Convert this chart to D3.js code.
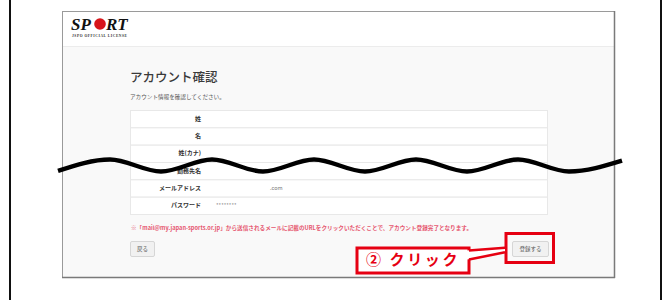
<!DOCTYPE html>
<html><head><meta charset="utf-8">
<script src="https://cdn.jsdelivr.net/npm/d3@7"></script>
<style>
html,body{margin:0;padding:0;background:#fff;}
svg{display:block;font-family:"Noto Sans CJK JP","Noto Sans",sans-serif;}
</style></head>
<body>
<svg id="c" width="670" height="300"></svg>
<script>
// ---- content ----
const pageTitle = "アカウント確認";
const pageSub = "アカウント情報を確認してください。";
const rowLabels = ["姓", "名", "姓(カナ)", "勤務先名", "メールアドレス", "パスワード"];
const rowValues = ["", "", "", "", ".com", "********"];
const valueOffsets = [0, 0, 0, 0, 62, 8];
const noteText = "※「mail@my.japan-sports.or.jp」から送信されるメールに記載のURLをクリックいただくことで、アカウント登録完了となります。";
const backLabel = "戻る";
const submitLabel = "登録する";
const calloutLabel = "② クリック";
const logoLeft = "SP", logoRight = "RT", logoSub = "JSPO OFFICIAL LICENSE";
// wave extrema (x) and level (0 = trough, 1 = peak)
const waveX = [58, 110, 161, 212, 263, 314, 365, 416, 467, 518, 569, 622];
const waveLevel = [0.05, 1, 0, 1, 0, 1, 0, 1, 0, 1, 0, 0.9];

const svg = d3.select("#c");
const red = "#e60012";

// outer frame lines
svg.append("rect").attr("x", 9).attr("y", 0).attr("width", 2).attr("height", 300).attr("fill", "#111");
svg.append("rect").attr("x", 660).attr("y", 0).attr("width", 2).attr("height", 300).attr("fill", "#111");

// screenshot box
const sx0 = 62, sx1 = 615, sy0 = 11, sy1 = 278, headerY = 46;
svg.append("rect").attr("x", sx0 + 0.5).attr("y", sy0 + 0.5).attr("width", sx1 - sx0 - 1).attr("height", sy1 - sy0 - 1)
  .attr("fill", "#f9f9f9").attr("stroke", "#9a9a9a");
svg.append("rect").attr("x", sx0 + 1).attr("y", sy0 + 1).attr("width", sx1 - sx0 - 2).attr("height", headerY - sy0 - 1).attr("fill", "#fff");
svg.append("line").attr("x1", sx0 + 1).attr("x2", sx1 - 1).attr("y1", headerY + 0.5).attr("y2", headerY + 0.5).attr("stroke", "#ececec");
svg.append("line").attr("x1", sx1 - 0.5).attr("x2", sx1 - 0.5).attr("y1", sy0).attr("y2", sy1).attr("stroke", "#7a7a7a").attr("stroke-width", 1.5);
svg.append("line").attr("x1", sx0).attr("x2", sx1).attr("y1", sy1 - 0.5).attr("y2", sy1 - 0.5).attr("stroke", "#7a7a7a").attr("stroke-width", 1.5);

// logo
const logo = svg.append("g");
logo.append("text").attr("x", 71).attr("y", 30).attr("font-family", "Liberation Serif, DejaVu Serif, serif")
  .attr("font-weight", "bold").attr("font-style", "italic").attr("font-size", 17).attr("fill", "#111").text(logoLeft);
logo.append("circle").attr("cx", 100).attr("cy", 24).attr("r", 5.8).attr("fill", "#d7141a");
logo.append("text").attr("x", 106).attr("y", 30).attr("font-family", "Liberation Serif, DejaVu Serif, serif")
  .attr("font-weight", "bold").attr("font-style", "italic").attr("font-size", 17).attr("fill", "#111").text(logoRight);
logo.append("text").attr("x", 72).attr("y", 36.5).attr("font-family", "Liberation Serif, serif")
  .attr("font-size", 3.6).attr("font-weight", "bold").attr("fill", "#333").attr("textLength", 55).text(logoSub);

// title
svg.append("text").attr("x", 130).attr("y", 81.5).attr("font-size", 12.5).attr("font-weight", 500).attr("fill", "#3a3a3a").text(pageTitle);
svg.append("text").attr("x", 130).attr("y", 98.5).attr("font-size", 5.6).attr("fill", "#555").text(pageSub);

// table
const tx0 = 130, tx1 = 548;
const y = d3.scaleBand().domain(d3.range(rowLabels.length)).range([110, 214]).paddingInner(0);
const rows = svg.append("g").selectAll("g").data(rowLabels).join("g")
  .attr("transform", (d, i) => `translate(0,${y(i)})`);
rows.append("rect").attr("x", tx0 + 0.5).attr("y", 0.5).attr("width", tx1 - tx0 - 1).attr("height", y.bandwidth())
  .attr("fill", "#fff").attr("stroke", "#e8e8e8");
rows.append("text").attr("x", 201).attr("y", y.bandwidth() / 2 + 2).attr("text-anchor", "end")
  .attr("font-size", 6).attr("font-weight", "bold").attr("fill", "#333").text(d => d);
rows.append("text").attr("x", (d, i) => 208 + valueOffsets[i]).attr("y", y.bandwidth() / 2 + 2)
  .attr("font-size", 5.5).attr("fill", "#777").text((d, i) => rowValues[i]);

// note
svg.append("text").attr("x", 131).attr("y", 230).attr("font-size", 5.6).attr("font-weight", "bold")
  .attr("fill", "#e6566f").attr("textLength", 341).text(noteText);

// buttons
function button(x, w, label) {
  svg.append("rect").attr("x", x + 0.5).attr("y", 241.5).attr("width", w).attr("height", 15).attr("rx", 1.5)
    .attr("fill", "#f1f1f1").attr("stroke", "#d6d6d6");
  svg.append("text").attr("x", x + w / 2 + 0.5).attr("y", 251).attr("text-anchor", "middle")
    .attr("font-size", 5.5).attr("fill", "#555").text(label);
}
button(130, 24, backLabel);
button(512, 36, submitLabel);

// highlight + callout
svg.append("rect").attr("x", 506).attr("y", 233.5).attr("width", 47.5).attr("height", 29)
  .attr("fill", "none").attr("stroke", red).attr("stroke-width", 3);
svg.append("rect").attr("x", 357).attr("y", 248).attr("width", 112).attr("height", 25)
  .attr("fill", "#fff").attr("stroke", red).attr("stroke-width", 3);
svg.append("path").attr("d", "M467,250.5 L505,247.7 L505,252.3 L467,259.5 Z").attr("fill", "#fff");
svg.append("path").attr("d", "M469,250.5 L505,247.7 M469,259.5 L505,252.3").attr("fill", "none")
  .attr("stroke", red).attr("stroke-width", 2.5);
svg.append("text").attr("x", 366).attr("y", 265).attr("font-size", 15).attr("font-weight", "bold")
  .attr("letter-spacing", 2.6).attr("fill", red).text(calloutLabel);

// wave
const wy = d3.scaleLinear().domain([0, 1]).range([171.5, 159.5]);
const wave = d3.line().x((d, i) => waveX[i]).y((d, i) => wy(waveLevel[i])).curve(d3.curveMonotoneX);
svg.append("path").datum(waveX).attr("d", wave)
  .attr("fill", "none").attr("stroke", "#000").attr("stroke-width", 4.5).attr("stroke-linecap", "butt");
</script>
</body></html>
